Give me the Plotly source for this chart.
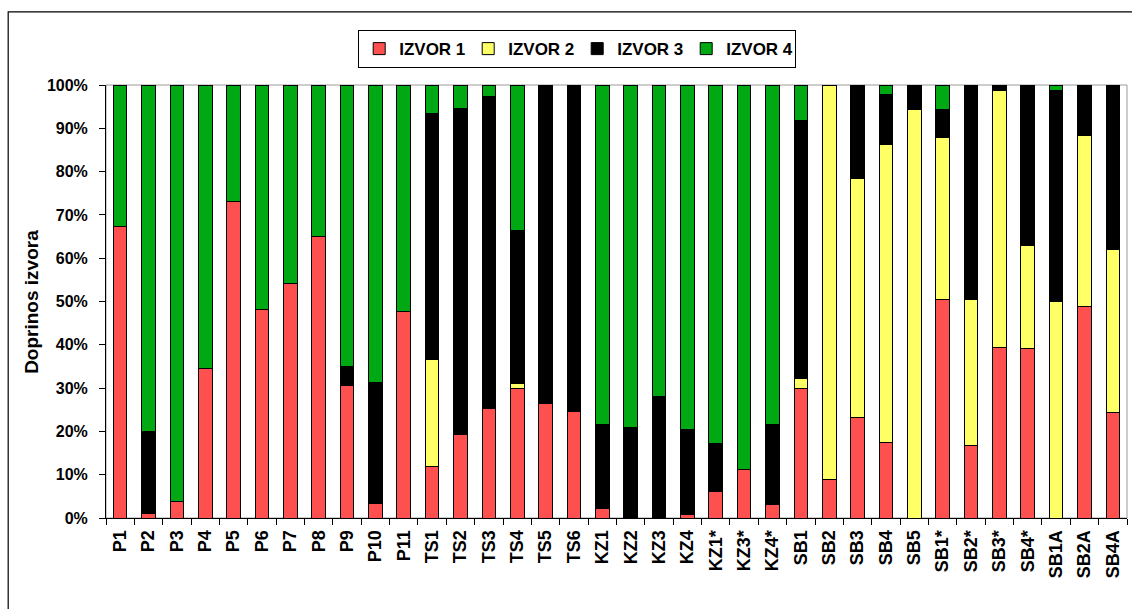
import plotly.graph_objects as go

categories = ["P1", "P2", "P3", "P4", "P5", "P6", "P7", "P8", "P9", "P10", "P11",
              "TS1", "TS2", "TS3", "TS4", "TS5", "TS6",
              "KZ1", "KZ2", "KZ3", "KZ4", "KZ1*", "KZ3*", "KZ4*",
              "SB1", "SB2", "SB3", "SB4", "SB5",
              "SB1*", "SB2*", "SB3*", "SB4*", "SB1A", "SB2A", "SB4A"]

izvor1 = [67.3, 1.0, 3.9, 34.5, 73.2, 48.2, 54.2, 64.9, 30.7, 3.3, 47.8,
          11.8, 19.3, 25.3, 29.9, 26.4, 24.7,
          2.3, 0, 0, 0.8, 6.2, 11.3, 3.1,
          29.9, 8.9, 23.3, 17.4, 0,
          50.5, 16.7, 39.3, 39.1, 0, 48.8, 24.4]
izvor2 = [0, 0, 0, 0, 0, 0, 0, 0, 0, 0, 0,
          24.8, 0, 0, 1.2, 0, 0,
          0, 0, 0, 0, 0, 0, 0,
          2.3, 91.1, 55.0, 68.9, 94.4,
          37.4, 33.8, 59.4, 23.8, 49.9, 39.6, 37.5]
izvor3 = [0, 19.0, 0, 0, 0, 0, 0, 0, 4.4, 28.1, 0,
          56.9, 75.3, 72.0, 35.2, 73.6, 75.3,
          19.3, 21.0, 28.1, 19.6, 11.1, 0, 18.6,
          59.5, 0, 21.3, 11.4, 5.6,
          6.5, 49.5, 1.3, 37.1, 48.8, 11.6, 38.1]
izvor4 = [32.7, 80.0, 96.1, 65.5, 26.8, 51.8, 45.8, 35.1, 64.9, 68.6, 52.2,
          6.5, 5.4, 2.7, 33.7, 0, 0,
          78.4, 79.0, 71.9, 79.6, 82.7, 88.7, 78.3,
          8.3, 0, 0.4, 2.3, 0,
          5.6, 0, 0, 0, 1.3, 0, 0]

y_tick_values = [0, 10, 20, 30, 40, 50, 60, 70, 80, 90, 100]
y_tick_labels = ["0%", "10%", "20%", "30%", "40%", "50%", "60%", "70%", "80%", "90%", "100%"]

series_names = ["IZVOR 1", "IZVOR 2", "IZVOR 3", "IZVOR 4"]
series_values = [izvor1, izvor2, izvor3, izvor4]
series_colors = ["#FF5050", "#FFFF66", "#000000", "#00A814"]

FONT = "Liberation Sans, Arial, sans-serif"

fig = go.Figure()
for name, vals, col in zip(series_names, series_values, series_colors):
    fig.add_trace(go.Bar(
        x=categories,
        y=[v if v > 0 else None for v in vals],
        name=name,
        marker=dict(color=col, line=dict(color="#000000", width=1)),
        width=0.48,
    ))

fig.update_layout(
    barmode="stack",
    width=1132, height=609,
    margin=dict(l=106, r=5, t=85, b=91),
    paper_bgcolor="white",
    plot_bgcolor="white",
    font=dict(family=FONT, color="#000000"),
    showlegend=True,
    legend=dict(
        orientation="h",
        x=0.4615, y=1.083, xanchor="center", yanchor="middle",
        bordercolor="#000000", borderwidth=1,
        font=dict(family=FONT, size=17, color="#000000", weight="bold"),
        itemwidth=30,
        entrywidth=64, entrywidthmode="pixels",
        traceorder="normal",
        bgcolor="white",
    ),
    xaxis=dict(
        type="category",
        tickangle=-90,
        tickfont=dict(family=FONT, size=18, color="#000000", weight="bold"),
        showline=True, linecolor="#000000", linewidth=1,
        ticks="outside", ticklen=6, tickcolor="#000000", tickwidth=1,
        tickson="boundaries",
        showgrid=False, zeroline=False,
        range=[-0.5, len(categories) - 0.5],
        ticklabelstandoff=4,
    ),
    yaxis=dict(
        range=[0, 100],
        tickmode="array",
        tickvals=y_tick_values,
        ticktext=y_tick_labels,
        tickfont=dict(family=FONT, size=16, color="#000000", weight="bold"),
        showline=True, linecolor="#000000", linewidth=1,
        ticks="outside", ticklen=6, tickcolor="#000000", tickwidth=1,
        showgrid=False, zeroline=False,
        ticklabelstandoff=8,
    ),
    shapes=[
        dict(type="rect", xref="paper", yref="paper", x0=0, x1=1, y0=0, y1=1,
             line=dict(color="#9a9a9a", width=1), layer="below"),
        dict(type="rect", xref="paper", yref="paper",
             x0=-0.0958, x1=1.03, y0=-0.25, y1=1.1687,
             line=dict(color="#000000", width=1.2), layer="below"),
    ],
    annotations=[
        dict(text="Doprinos izvora", xref="paper", yref="paper",
             x=-0.0731, y=0.5, textangle=-90, showarrow=False,
             xanchor="center", yanchor="middle",
             font=dict(family=FONT, size=19, color="#000000", weight="bold")),
    ],
)

fig.write_html("out.html",
               config={"displayModeBar": False},
               post_script="document.body.style.margin='0px';document.body.style.overflow='hidden';")
